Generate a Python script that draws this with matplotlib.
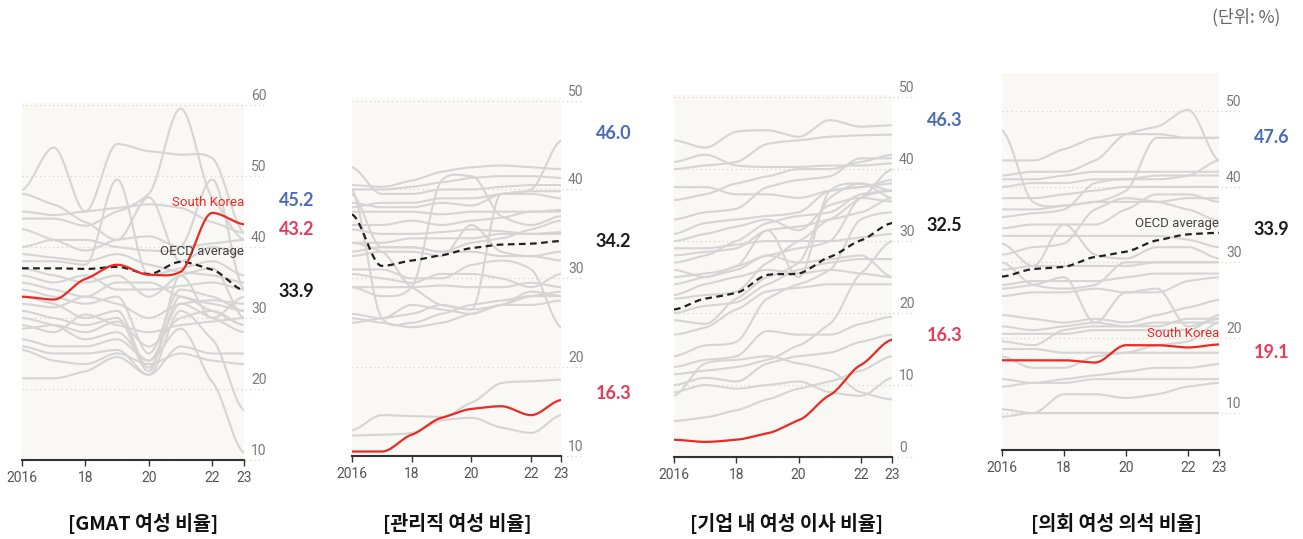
import numpy as np
import matplotlib.pyplot as plt

years = [2016, 2017, 2018, 2019, 2020, 2021, 2022, 2023]
xtick_pos = [2016, 2018, 2020, 2022, 2023]
xtick_txt = ["2016", "18", "20", "22", "23"]

titles = ["[GMAT 여성 비율]", "[관리직 여성 비율]", "[기업 내 여성 이사 비율]", "[의회 여성 의석 비율]"]

# --- panel 1: GMAT
korea_1 = [33.0, 32.6, 35.5, 37.5, 36.1, 36.5, 44.8, 43.2]
oecd_1 = [37.0, 37.0, 36.9, 37.2, 36.2, 37.9, 36.8, 33.9]
grey_1 = [
    [48, 54, 45, 54.5, 53.5, 53, 52.5, 42],
    [44, 44, 43, 45, 47.5, 59.5, 47, 41],
    [38, 38, 37.5, 49.5, 36, 37, 38, 36],
    [47.5, 46, 43.5, 41, 47, 38, 40, 39],
    [45, 44.5, 45, 45.5, 46, 45.5, 43.5, 42],
    [42.5, 41, 39.5, 41, 41.5, 40, 40.5, 41],
    [40, 41, 41, 40, 39.5, 40, 49.5, 34],
    [36, 35, 36, 34, 34, 34.5, 35, 34],
    [34, 33, 32, 33, 25, 34, 33, 31],
    [33, 32, 30, 31, 23, 33, 31, 29],
    [31, 30, 29, 30, 22.5, 36, 30, 33],
    [30, 29, 27, 28, 24, 32, 30, 28],
    [29, 28, 30.5, 29, 28, 29, 29.5, 30],
    [27, 26, 26, 27, 24, 28.5, 21, 11],
    [26, 25, 25, 25.5, 22, 31, 27, 17],
    [25.5, 24, 23.5, 25, 23.5, 25, 24, 23.5],
    [21.5, 21.5, 22.5, 24.5, 22, 26, 25, 25],
    [35, 34, 33, 35, 35, 33, 32, 31],
    [37, 36, 35, 36, 33, 36, 37, 30],
    [39, 38.5, 38, 39, 37.5, 36.5, 36, 35],
    [32, 31.5, 33, 32, 30, 32, 32.5, 32],
    [28.5, 29, 28, 29.5, 26, 30, 31, 29],
]

# --- panel 2: managers
korea_2 = [10.5, 10.5, 12.4, 14.3, 15.3, 15.6, 14.6, 16.3]
oecd_2 = [37.2, 31.4, 32.0, 32.6, 33.4, 33.8, 33.9, 34.2]
grey_2 = [
    [42.5, 39.5, 39.5, 40, 40, 40.3, 40.5, 40.5],
    [40.5, 40.3, 41, 42, 42.5, 42.7, 42.5, 42.3],
    [40, 40, 40.3, 40.8, 41.3, 41.5, 41.5, 41.3],
    [38, 38.5, 38.5, 39, 39, 39.5, 40, 45.5],
    [29, 28, 29, 41, 41.5, 37, 36, 37],
    [25, 25.5, 26, 27, 26.5, 39.5, 39.5, 39],
    [40, 25.5, 25, 26, 27, 27.5, 28, 28],
    [25.5, 25, 24.5, 25, 26, 27, 28, 28.5],
    [26, 25.5, 27, 26.5, 26, 27, 27, 27.5],
    [31, 31, 30, 30, 31.5, 32, 31, 24.5],
    [29, 29, 29, 29.2, 29, 29, 29.5, 29],
    [30.5, 30, 29.5, 30.5, 30.5, 30, 29, 30.5],
    [33, 33.5, 33.5, 33, 34, 34.5, 35.5, 36.5],
    [34, 34, 34.5, 34.5, 34.5, 35, 35, 35],
    [35.5, 35, 35, 35.2, 35.5, 35.3, 35, 35.2],
    [36, 36, 36.5, 36, 36.5, 36.8, 37.5, 37.5],
    [32.5, 33, 33, 32.5, 36, 33, 32.5, 33],
    [37.5, 37.5, 37.5, 37.2, 37.5, 37.5, 37.5, 37.7],
    [39.5, 33.5, 33.5, 33, 33, 32.5, 32.5, 32],
    [38.5, 38, 38, 38.5, 38.2, 39.5, 39.8, 39.8],
    [34, 33, 29, 27, 26.5, 27, 28.5, 28],
    [12.9, 14.6, 14.5, 14.4, 16, 18.2, 18.4, 18.6],
    [12.3, 12.4, 12.6, 14.0, 14.3, 13.2, 12.6, 14.6],
]

# --- panel 3: board members
korea_3 = [2.4, 2.1, 2.4, 3.3, 5.1, 8.6, 12.8, 16.3]
oecd_3 = [20.5, 22.0, 22.8, 25.3, 25.5, 27.8, 30.1, 32.5]
grey_3 = [
    [44, 43, 45.2, 45.4, 44.5, 46.8, 45.9, 46.1],
    [41, 42, 40.5, 40.3, 40.3, 40.5, 40.5, 40.8],
    [40, 40.5, 41, 43.5, 44, 44.5, 44.7, 44.8],
    [37.5, 37.5, 36.5, 36.5, 36, 37, 37.5, 38],
    [35.7, 36.5, 38, 39, 40, 40, 41, 42],
    [33, 34, 34.5, 37.5, 38.5, 39, 41.5, 41.5],
    [29, 29, 29.5, 30, 30, 30, 30.5, 31],
    [31, 32.5, 33, 33.5, 34, 37, 37.5, 38.5],
    [28, 28.5, 29, 31.5, 32, 33, 34, 36],
    [26, 25, 26.5, 28, 29, 30, 36, 37],
    [25, 25.5, 26.5, 31.5, 25, 37, 38, 36],
    [24, 25, 26, 28, 27, 27.5, 28, 25],
    [22, 22.5, 23, 27, 30, 33, 36, 40],
    [20, 21, 21.5, 24, 26, 27, 27.5, 27.5],
    [19, 18.5, 22, 25, 27, 36, 38, 37],
    [17, 18, 20.5, 23, 23.5, 24, 24, 24],
    [14, 15.5, 16, 22, 24, 26, 33, 34],
    [12.5, 13.5, 14, 17.5, 17, 17, 18.5, 19.5],
    [11.5, 12, 12.5, 13.5, 15.5, 18.5, 25.5, 30],
    [10, 11, 10.5, 13, 14, 14.5, 16, 17],
    [9, 10, 9.5, 10, 10.5, 9, 8.5, 11],
    [8.5, 13, 13.5, 14, 13, 12, 9, 8],
    [5, 5.5, 6.5, 8, 9.5, 10.5, 12, 14],
    [22.5, 24, 25, 26, 25.5, 26, 25.5, 25],
    [30, 31, 32, 33, 31.5, 35, 36, 35.5],
    [27, 28, 30, 32.5, 33.5, 34, 36.5, 37],
]

# --- panel 4: parliament seats
korea_4 = [17.0, 17.0, 17.0, 16.7, 19.0, 19.0, 18.7, 19.1]
oecd_4 = [28.1, 29.1, 29.4, 30.7, 31.4, 32.9, 33.7, 33.9]
grey_4 = [
    [47.5, 38, 37.5, 38, 38, 38, 38.5, 38.5],
    [43.5, 43.5, 45, 46.5, 47, 47, 46.5, 46.5],
    [41.5, 42, 42, 43.5, 47, 48, 50.2, 43.5],
    [41, 41, 41.5, 42, 42, 42, 42, 42],
    [40, 40.5, 40.5, 41, 41, 41.5, 41.5, 41.5],
    [38.5, 38.5, 39, 39.5, 40, 40, 40, 40],
    [37, 37, 37.5, 38, 39.5, 46.5, 46.5, 46.5],
    [36, 36.5, 37, 40.5, 41, 41, 41.5, 43.5],
    [34.5, 35, 35, 35, 37, 39, 39, 38],
    [33.5, 33.5, 33.5, 33.5, 33.5, 33.5, 33, 32],
    [32.5, 29.5, 35, 31, 30.5, 32, 32, 30.5],
    [31, 32, 32.5, 37, 38.5, 38, 37, 35.5],
    [30, 27, 26.5, 27, 30, 30, 30, 30],
    [29, 29.5, 29.5, 29.5, 29.5, 30, 30, 30],
    [27, 27.5, 27.5, 27.5, 28, 28.5, 28.5, 28.5],
    [26.5, 27, 28, 22, 26, 26, 27.5, 28],
    [25.5, 26, 26, 26.5, 26, 26.5, 21.5, 22.5],
    [23, 22.5, 22, 22.5, 22, 23, 24, 25],
    [21.5, 21, 21.5, 22, 21.5, 22, 22, 22],
    [20.5, 20.5, 20.5, 21, 21, 21, 21, 23],
    [19.5, 19, 21, 21.5, 21.5, 21.5, 22.5, 22.5],
    [18.5, 18.5, 18, 18, 18, 18, 18, 18],
    [17.5, 16, 16, 17.5, 18, 19, 19.5, 22],
    [14.5, 14, 14.5, 15, 15.5, 16, 16, 16.5],
    [13.5, 14, 14, 14.5, 14.5, 14.5, 14.5, 14.5],
    [10.5, 10, 12.5, 12.5, 12, 12.5, 13.5, 14],
    [9.5, 10, 10, 10, 10, 10, 10, 10],
]

max_vals = ["45.2", "46.0", "46.3", "47.6"]
kor_vals = ["43.2", "16.3", "16.3", "19.1"]
avg_vals = ["33.9", "34.2", "32.5", "33.9"]
# label heights (data units) after overlap avoidance
max_y = [46.6, 46.3, 46.8, 46.6]
kor_y = [42.4, 17.0, 16.9, 18.0]
avg_y = [33.7, 34.2, 32.2, 34.3]

yticks = [[10, 20, 30, 40, 50, 60], [10, 20, 30, 40, 50], [0, 10, 20, 30, 40, 50], [10, 20, 30, 40, 50]]
ylims = [(10, 60.28), (10, 50.3), (0, 50.3), (5.1, 55.1)]
# axes boxes in pixels: left, right, top, bottom
boxes = [(22, 244, 103, 460), (352, 561, 98, 456), (674, 892, 95, 457), (1002, 1219, 73, 450)]
title_x = [143, 457, 787, 1116]

koreas = [korea_1, korea_2, korea_3, korea_4]
oecds = [oecd_1, oecd_2, oecd_3, oecd_4]
greys = [grey_1, grey_2, grey_3, grey_4]

W, H = 1303, 539
NARROW = ["Roboto", "DejaVu Sans"]
BOLD_NUM = ["Lato", "DejaVu Sans"]
KR = ["Noto Sans CJK KR", "DejaVu Sans"]


def smooth(x, y, k=0.55, n=30):
    # cubic hermite through yearly points, damped tangents, flat at extrema
    x = np.asarray(x, float)
    y = np.asarray(y, float)
    d = np.diff(y) / np.diff(x)
    m = np.zeros_like(y)
    for i in range(1, len(y) - 1):
        if d[i - 1] * d[i] > 0:
            m[i] = k * (d[i - 1] + d[i]) / 2
    m[0] = k * d[0] * 0.5
    m[-1] = k * d[-1] * 0.5
    xs, ys = [], []
    for i in range(len(x) - 1):
        h = x[i + 1] - x[i]
        t = np.linspace(0, 1, n, endpoint=False)
        h00 = 2 * t**3 - 3 * t**2 + 1
        h10 = t**3 - 2 * t**2 + t
        h01 = -2 * t**3 + 3 * t**2
        h11 = t**3 - t**2
        xs.append(x[i] + t * h)
        ys.append(h00 * y[i] + h10 * h * m[i] + h01 * y[i + 1] + h11 * h * m[i + 1])
    xs.append([x[-1]])
    ys.append([y[-1]])
    return np.concatenate(xs), np.concatenate(ys)


fig = plt.figure(figsize=(W / 100, H / 100), dpi=100)

for p in range(4):
    l, r, t, b = boxes[p]
    ax = fig.add_axes([l / W, (H - b) / H, (r - l) / W, (b - t) / H])
    ax.set_facecolor("#f9f8f4")
    ax.set_xlim(2016, 2023)
    ax.set_ylim(*ylims[p])
    ext = 1 + 23 / (r - l)
    for v in yticks[p]:
        ax.plot([0, ext], [v, v], transform=ax.get_yaxis_transform(), color="#d9d6c6",
                lw=0.9, ls=(0, (1, 2.5)), clip_on=False, zorder=0.5)
        ax.annotate(str(v), xy=(1, v), xycoords=("axes fraction", "data"), xytext=(5, 1.5),
                    textcoords="offset points", ha="left", va="bottom", fontsize=10,
                    color="#7a7a7a", family=NARROW)

    for g in greys[p]:
        xs, ys = smooth(years, g)
        ax.plot(xs, ys, color="#d5d5d5", lw=1.5, zorder=1, solid_capstyle="round")
    xs, ys = smooth(years, oecds[p])
    ax.plot(xs, ys, color="#222222", lw=1.6, ls=(0, (3, 2)), zorder=3)
    xs, ys = smooth(years, koreas[p])
    ax.plot(xs, ys, color="#ea2a24", lw=1.6, zorder=4)

    for s in ["top", "left", "right"]:
        ax.spines[s].set_visible(False)
    ax.spines["bottom"].set_color("#333333")
    ax.spines["bottom"].set_linewidth(1.5)
    ax.set_yticks([])
    ax.set_xticks(xtick_pos)
    ax.set_xticklabels(xtick_txt, family=NARROW, fontsize=10, color="#555555")
    ax.tick_params(axis="x", direction="out", length=4, width=1, color="#333333", pad=4)

    ax.annotate(max_vals[p], xy=(1, max_y[p]), xycoords=("axes fraction", "data"), xytext=(25, 0),
                textcoords="offset points", ha="left", va="center", fontsize=13,
                fontweight="bold", color="#4a6cb8", family=BOLD_NUM)
    ax.annotate(kor_vals[p], xy=(1, kor_y[p]), xycoords=("axes fraction", "data"), xytext=(25, 0),
                textcoords="offset points", ha="left", va="center", fontsize=13,
                fontweight="bold", color="#e83a5a", family=BOLD_NUM)
    ax.annotate(avg_vals[p], xy=(1, avg_y[p]), xycoords=("axes fraction", "data"), xytext=(25, 0),
                textcoords="offset points", ha="left", va="center", fontsize=13,
                fontweight="bold", color="#1a1a1a", family=BOLD_NUM)

    if p == 0:
        ax.text(2023, 46.2, "South Korea", ha="right", va="center", fontsize=9.5,
                color="#ea2a24", family=NARROW, zorder=5)
        ax.text(2023, 39.4, "OECD average", ha="right", va="center", fontsize=9.5,
                color="#444444", family=NARROW, zorder=5)
    if p == 3:
        ax.text(2023, 20.6, "South Korea", ha="right", va="center", fontsize=9.5,
                color="#ea2a24", family=NARROW, zorder=5)
        ax.text(2023, 35.2, "OECD average", ha="right", va="center", fontsize=9.5,
                color="#444444", family=NARROW, zorder=5)

    fig.text(title_x[p] / W, 1 - 524 / H, titles[p], ha="center", va="center",
             fontsize=14, fontweight="bold", color="#111111", family=KR)

fig.text(1280 / W, 1 - 17 / H, "(단위: %)", ha="right", va="center", fontsize=12.5,
         color="#666666", family=KR)

fig.savefig("out.png", dpi=100, facecolor="white")
